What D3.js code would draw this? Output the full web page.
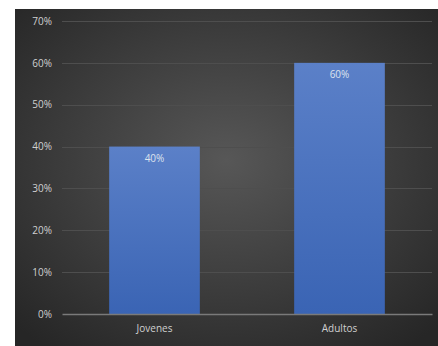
<!DOCTYPE html>
<html>
<head>
<meta charset="utf-8">
<script src="https://cdn.jsdelivr.net/npm/d3@7"></script>
<style>
  body { margin: 0; background: #fff; }
  svg { display: block; }
</style>
</head>
<body>
<script>
var categories = ["Jovenes", "Adultos"];
var values = [0.40, 0.60];
var yTicks = [0, 0.1, 0.2, 0.3, 0.4, 0.5, 0.6, 0.7];

var W = 438, H = 346;
var margin = {top: 21, right: 6, bottom: 32, left: 62};
var width = W - margin.left - margin.right,
    height = H - margin.top - margin.bottom;

var svg = d3.select("body").append("svg")
    .attr("width", W)
    .attr("height", H);

var defs = svg.append("defs");
var bg = defs.append("radialGradient")
    .attr("id", "bg")
    .attr("cx", "50%").attr("cy", "45%").attr("r", "70%");
bg.append("stop").attr("offset", "0%").attr("stop-color", "#575757");
bg.append("stop").attr("offset", "100%").attr("stop-color", "#262626");

var barGrad = defs.append("linearGradient")
    .attr("id", "barGrad")
    .attr("x1", 0).attr("y1", 0).attr("x2", 0).attr("y2", 1);
barGrad.append("stop").attr("offset", "0%").attr("stop-color", "#5b80c8");
barGrad.append("stop").attr("offset", "100%").attr("stop-color", "#3a64b4");

// chart area background
svg.append("rect")
    .attr("x", 15).attr("y", 9)
    .attr("width", W - 15).attr("height", H - 9)
    .attr("fill", "url(#bg)");

var g = svg.append("g")
    .attr("transform", "translate(" + margin.left + "," + margin.top + ")");

var xScale = d3.scaleBand().domain(categories).range([0, width]).paddingInner(0.51).paddingOuter(0.255);
var yScale = d3.scaleLinear().domain([0, 0.7]).range([height, 0]);

// gridlines
g.append("g")
    .attr("class", "grid")
    .selectAll("line")
    .data(yTicks.slice(1))
    .enter().append("line")
    .attr("x1", 0).attr("x2", width)
    .attr("y1", function(d) { return Math.round(yScale(d)) + 0.5; })
    .attr("y2", function(d) { return Math.round(yScale(d)) + 0.5; })
    .attr("stroke", "#4e4e4e")
    .attr("stroke-width", 1);

// y axis labels
var yAxis = d3.axisLeft(yScale).tickValues(yTicks).tickSize(0).tickPadding(10)
    .tickFormat(d3.format(".0%"));
g.append("g")
    .call(yAxis)
    .call(function(a) { a.select(".domain").remove(); })
    .selectAll("text")
    .attr("fill", "#d0d0d0")
    .style("font-family", "'Open Sans', sans-serif")
    .style("font-size", "10px");

// bars
g.selectAll(".bar")
    .data(values)
    .enter().append("rect")
    .attr("class", "bar")
    .attr("x", function(d, i) { return xScale(categories[i]); })
    .attr("width", xScale.bandwidth())
    .attr("y", function(d) { return yScale(d); })
    .attr("height", function(d) { return height - yScale(d); })
    .attr("fill", "url(#barGrad)");

// value labels
g.selectAll(".val")
    .data(values)
    .enter().append("text")
    .attr("class", "val")
    .attr("x", function(d, i) { return xScale(categories[i]) + xScale.bandwidth() / 2; })
    .attr("y", function(d) { return yScale(d) + 15; })
    .attr("text-anchor", "middle")
    .attr("fill", "#dde3ee")
    .style("font-family", "'Open Sans', sans-serif")
    .style("font-size", "10px")
    .text(function(d) { return d3.format(".0%")(d); });

// x axis
var xAxis = d3.axisBottom(xScale).tickSize(0).tickPadding(11);
var xa = g.append("g")
    .attr("transform", "translate(0," + height + ")")
    .call(xAxis);
xa.select(".domain").attr("stroke", "#7a7a7a").attr("stroke-width", 1.5);
xa.selectAll("text")
    .attr("fill", "#d0d0d0")
    .style("font-family", "'Open Sans', sans-serif")
    .style("font-size", "10px");
</script>
</body>
</html>
